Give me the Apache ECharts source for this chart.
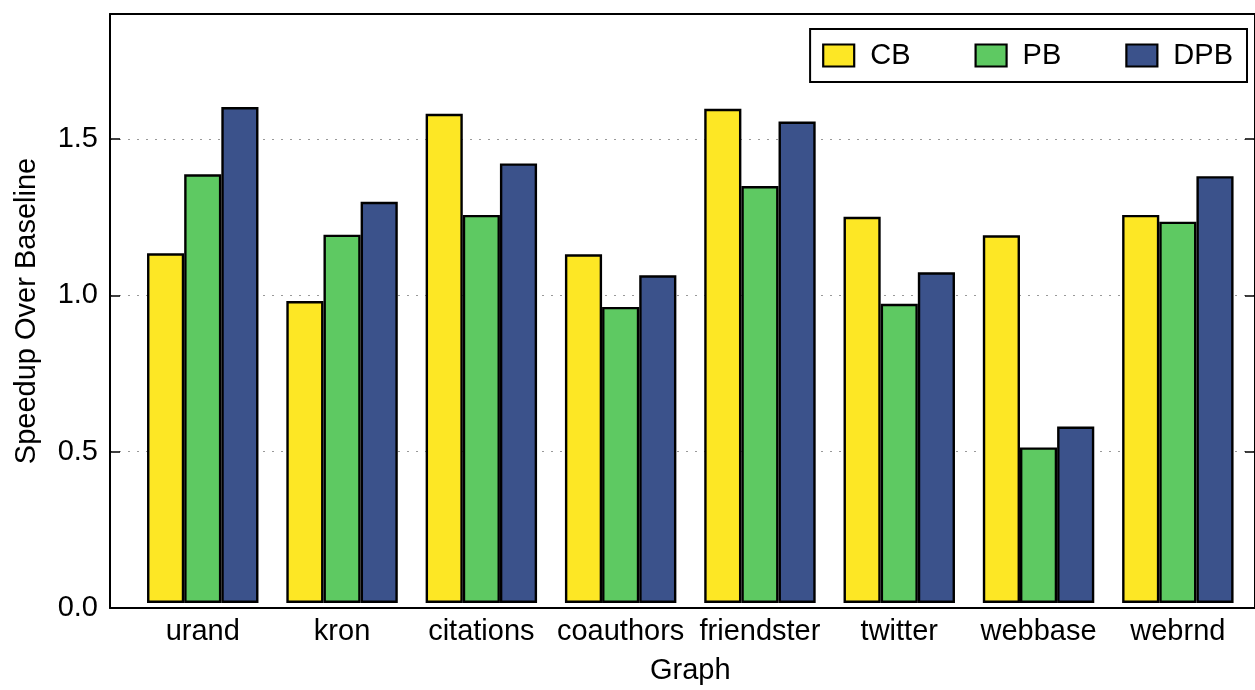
<!DOCTYPE html>
<html>
<head>
<meta charset="utf-8">
<title>Speedup Over Baseline</title>
<script src="https://cdn.jsdelivr.net/npm/echarts@6/dist/echarts.min.js"></script>
<style>
  html, body { margin: 0; padding: 0; background: #fff; }
  #chart { width: 1255px; height: 690px; }
</style>
</head>
<body>
<div id="chart"></div>
<script>
// Graph inputs on the x axis
const categories = ['urand', 'kron', 'citations', 'coauthors', 'friendster', 'twitter', 'webbase', 'webrnd'];

// Speedup of each scheme relative to the baseline
const cbValues  = [1.128, 0.974, 1.578, 1.125, 1.594, 1.246, 1.186, 1.252];
const pbValues  = [1.383, 1.188, 1.252, 0.955, 1.345, 0.965, 0.502, 1.230];
const dpbValues = [1.600, 1.294, 1.418, 1.057, 1.553, 1.067, 0.569, 1.377];

const seriesNames = ['CB', 'PB', 'DPB'];
const yTicks = [0, 0.5, 1.0, 1.5];

const FONT = '"Liberation Sans", Arial, Helvetica, sans-serif';
const FS = 29;
const colors = ['#fde725', '#5ec962', '#3b528b'];
const yMax = 1.9;

const chart = echarts.init(document.getElementById('chart'), null, { renderer: 'canvas' });

function tickLabel(v) {
  return yTicks.some(t => Math.abs(t - v) < 1e-9) ? v.toFixed(1) : '';
}

const spine = { show: true, onZero: false, lineStyle: { color: '#000', width: 2 } };
const innerTick = { show: true, inside: true, length: 10, lineStyle: { color: '#000', width: 1.5 } };

const barSeries = [cbValues, pbValues, dpbValues].map((vals, i) => ({
  name: seriesNames[i],
  type: 'bar',
  xAxisIndex: 2,
  yAxisIndex: 2,
  data: vals,
  barGap: '0%',
  barCategoryGap: '20%',
  itemStyle: { color: colors[i], borderColor: '#000', borderWidth: 2.4 },
  emphasis: { disabled: true }
}));

chart.setOption({
  animation: false,
  textStyle: { fontFamily: FONT },
  color: colors,
  legend: {
    data: seriesNames,
    right: 8,
    top: 29,
    orient: 'horizontal',
    padding: [12, 14, 12, 12],
    borderColor: '#000',
    borderWidth: 2,
    itemWidth: 31,
    itemHeight: 22,
    itemGap: 64,
    icon: 'rect',
    itemStyle: { borderColor: '#000', borderWidth: 2.2 },
    formatter: name => '{t|' + name + '}',
    textStyle: {
      color: '#000',
      fontFamily: FONT,
      fontSize: FS,
      rich: { t: { fontSize: FS, fontFamily: FONT, color: '#000', padding: [0, 0, 0, 11] } }
    }
  },
  grid: [
    // frame with the value axis, spines and dotted grid
    { left: 110, right: -5, top: 14, bottom: 82 },
    // bar area holding the category bands
    { left: 133.1, right: 7.5, top: 14, bottom: 82 }
  ],
  xAxis: [
    { type: 'value', gridIndex: 0, position: 'bottom', min: 0, max: 1, axisLine: spine, axisTick: { show: false }, axisLabel: { show: false }, splitLine: { show: false } },
    { type: 'value', gridIndex: 0, position: 'top', min: 0, max: 1, axisLine: spine, axisTick: { show: false }, axisLabel: { show: false }, splitLine: { show: false } },
    {
      type: 'category',
      gridIndex: 1,
      data: categories,
      name: 'Graph',
      nameLocation: 'middle',
      nameGap: 53,
      nameTextStyle: { fontSize: FS, color: '#000', fontFamily: FONT },
      axisLine: { show: false },
      axisTick: { show: false },
      axisLabel: { fontSize: FS, color: '#000', margin: 14, fontFamily: FONT, interval: 0 }
    }
  ],
  yAxis: [
    {
      type: 'value',
      gridIndex: 0,
      min: 0,
      max: yMax,
      interval: 0.5,
      name: 'Speedup Over Baseline',
      nameLocation: 'middle',
      nameGap: 69,
      nameTextStyle: { fontSize: FS, color: '#000', fontFamily: FONT },
      axisLine: spine,
      axisTick: innerTick,
      axisLabel: { fontSize: FS, color: '#000', margin: 12, fontFamily: FONT, formatter: tickLabel, showMaxLabel: false },
      splitLine: { show: true, showMinLine: false, showMaxLine: false, lineStyle: { color: '#999', width: 1, type: [2, 7] } }
    },
    {
      type: 'value',
      gridIndex: 0,
      position: 'right',
      min: 0,
      max: yMax,
      interval: 0.5,
      axisLine: spine,
      axisTick: innerTick,
      axisLabel: { show: false },
      splitLine: { show: false }
    },
    { type: 'value', gridIndex: 1, min: 0, max: yMax, show: false }
  ],
  series: barSeries
});
</script>
</body>
</html>
